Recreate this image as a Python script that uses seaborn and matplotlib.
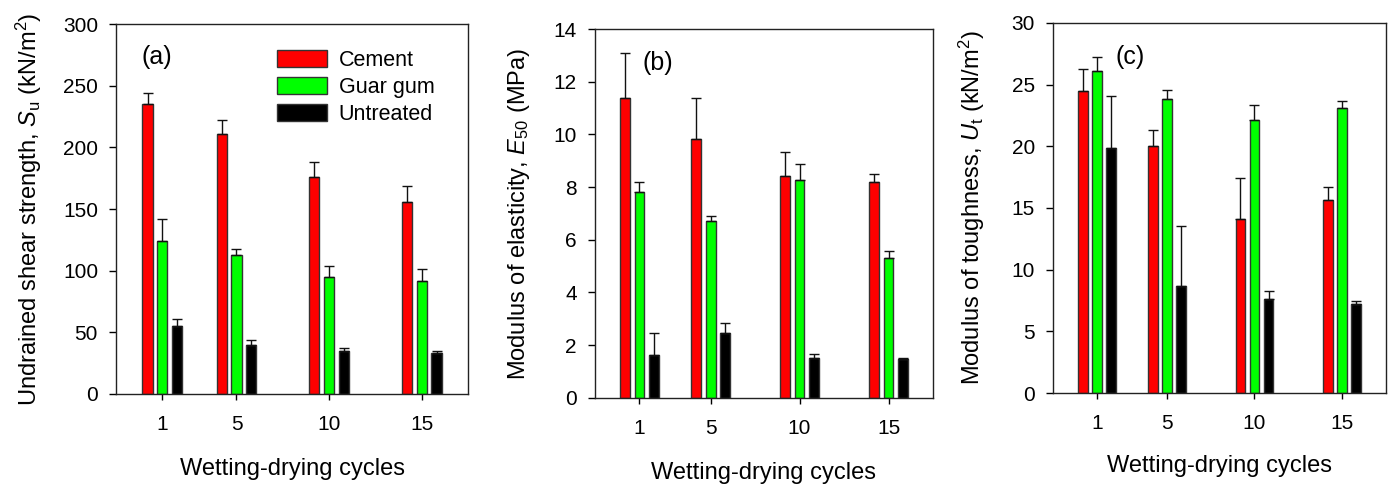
import numpy as np
import pandas as pd
import matplotlib
matplotlib.use("Agg")
import matplotlib.pyplot as plt
import seaborn as sns

# ---------------- data ----------------
cycles = [1, 5, 10, 15]
treatments = ["Cement", "Guar gum", "Untreated"]
colors = ["#FF0000", "#00FF00", "#000000"]

# (a) undrained shear strength (kN/m2)
su_cement = [235, 211, 176, 156]
su_guar = [124, 113, 95, 92]
su_untreated = [55, 40, 35, 33]
su_cement_err = [9, 11, 12, 13]
su_guar_err = [18, 5, 9, 9]
su_untreated_err = [6, 3.5, 2.5, 1.5]

# (b) modulus of elasticity E50 (MPa)
e50_cement = [11.38, 9.82, 8.43, 8.21]
e50_guar = [7.82, 6.70, 8.26, 5.31]
e50_untreated = [1.63, 2.48, 1.53, 1.49]
e50_cement_err = [1.71, 1.55, 0.91, 0.28]
e50_guar_err = [0.36, 0.20, 0.62, 0.25]
e50_untreated_err = [0.82, 0.35, 0.13, 0.02]

# (c) modulus of toughness Ut (kN/m2)
ut_cement = [24.46, 20.03, 14.08, 15.68]
ut_guar = [26.14, 23.84, 22.11, 23.14]
ut_untreated = [19.89, 8.65, 7.59, 7.22]
ut_cement_err = [1.81, 1.27, 3.35, 1.00]
ut_guar_err = [1.13, 0.73, 1.21, 0.54]
ut_untreated_err = [4.16, 4.86, 0.68, 0.21]

# ---------------- style ----------------
sns.set_style("ticks")
plt.rcParams["font.family"] = ["Liberation Sans", "DejaVu Sans"]
plt.rcParams["mathtext.fontset"] = "custom"
plt.rcParams["mathtext.rm"] = "Liberation Sans"
plt.rcParams["mathtext.it"] = "Liberation Sans:italic"
plt.rcParams["axes.edgecolor"] = "#222222"
plt.rcParams["axes.linewidth"] = 1.0
for k in ["text.color", "axes.labelcolor", "xtick.color", "ytick.color"]:
    plt.rcParams[k] = "black"

FS = 15
LFS = 17

fig = plt.figure(figsize=(13.95, 4.84), dpi=100)
positions = [
    [0.0832, 0.186, 0.3355 - 0.0832, 0.950 - 0.186],
    [0.4265, 0.178, 0.6688 - 0.4265, 0.940 - 0.178],
    [0.7548, 0.188, 0.9935 - 0.7548, 0.9525 - 0.188],
]

panels = [
    dict(vals=[su_cement, su_guar, su_untreated],
         errs=[su_cement_err, su_guar_err, su_untreated_err],
         ylim=(0, 300), yticks=np.arange(0, 301, 50),
         ylabel=r"Undrained shear strength, $S_\mathrm{u}$ (kN/m$^2$)",
         tag="(a)", tagpos=(0.072, 0.91), ylc=-0.205, xlc=-0.173, legend=True),
    dict(vals=[e50_cement, e50_guar, e50_untreated],
         errs=[e50_cement_err, e50_guar_err, e50_untreated_err],
         ylim=(0, 14), yticks=np.arange(0, 15, 2),
         ylabel=r"Modulus of elasticity, $E_{\mathrm{50}}$ (MPa)",
         tag="(b)", tagpos=(0.140, 0.908), ylc=-0.186, xlc=-0.173, legend=False),
    dict(vals=[ut_cement, ut_guar, ut_untreated],
         errs=[ut_cement_err, ut_guar_err, ut_untreated_err],
         ylim=(0, 30), yticks=np.arange(0, 31, 5),
         ylabel=r"Modulus of toughness, $U_\mathrm{t}$ (kN/m$^2$)",
         tag="(c)", tagpos=(0.188, 0.909), ylc=-0.198, xlc=-0.168, legend=False),
]

palette = dict(zip(treatments, colors))

for pos, p in zip(positions, panels):
    ax = fig.add_axes(pos)
    rows = []
    for t, v in zip(treatments, p["vals"]):
        for c, val in zip(cycles, v):
            rows.append({"cycle": c, "value": val, "treatment": t})
    df = pd.DataFrame(rows)
    sns.barplot(data=df, x="cycle", y="value", hue="treatment",
                hue_order=treatments, palette=palette, native_scale=True,
                width=0.6, gap=0.31, errorbar=None, edgecolor="#333333",
                linewidth=1.0, legend=False, saturation=1, ax=ax)
    # one-sided error bars on top of the seaborn bars
    for cont, err in zip(ax.containers, p["errs"]):
        patches = sorted(cont.patches, key=lambda r: r.get_x())
        xs = [r.get_x() + r.get_width() / 2 for r in patches]
        ys = [r.get_height() for r in patches]
        ax.errorbar(xs, ys, yerr=[np.zeros(len(err)), err], fmt="none",
                    ecolor="#111111", elinewidth=1.0, capsize=3.6,
                    capthick=1.0, zorder=1)
    ax.set_xlim(-1.5, 17.5)
    ax.set_ylim(*p["ylim"])
    ax.set_xticks(cycles)
    ax.set_xticklabels([str(c) for c in cycles])
    ax.set_yticks(p["yticks"])
    ax.tick_params(axis="x", direction="out", length=4, width=1, pad=11, labelsize=FS, top=False)
    ax.tick_params(axis="y", direction="out", length=5, width=1, pad=8, labelsize=FS, right=False)
    for s in ax.spines.values():
        s.set_visible(True)
    ax.set_xlabel("Wetting-drying cycles", fontsize=LFS)
    ax.set_ylabel(p["ylabel"], fontsize=LFS)
    ax.xaxis.set_label_coords(0.5, p["xlc"])
    ax.yaxis.set_label_coords(p["ylc"], 0.5)
    ax.text(p["tagpos"][0], p["tagpos"][1], p["tag"], transform=ax.transAxes,
            fontsize=18, ha="left", va="center")
    if p["legend"]:
        ax.legend(handles=ax.containers, labels=treatments, frameon=False,
                  loc="upper left", bbox_to_anchor=(0.458, 0.930),
                  handlelength=2.3, handleheight=0.8, handletextpad=0.55,
                  labelspacing=0.28, fontsize=FS + 0.5, borderpad=0, borderaxespad=0)

fig.savefig("out.png", dpi=100)
